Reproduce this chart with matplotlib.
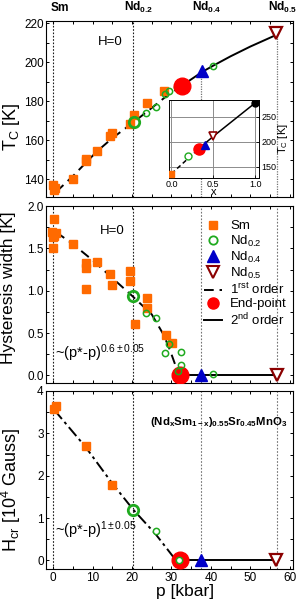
import matplotlib
matplotlib.use("Agg")
from matplotlib import pyplot as plt
from matplotlib.lines import Line2D
from matplotlib.ticker import MultipleLocator

plt.rcParams['font.family'] = ['Liberation Sans', 'DejaVu Sans']
plt.rcParams['mathtext.fontset'] = 'custom'
plt.rcParams['mathtext.rm'] = 'Liberation Sans'
plt.rcParams['mathtext.it'] = 'Liberation Sans:italic'
plt.rcParams['mathtext.bf'] = 'Liberation Sans:bold'
plt.rcParams['mathtext.default'] = 'regular'

# compositions and their pressures (vertical guides)
comp_labels = [r'$\mathbf{Sm}$', r'$\mathbf{Nd_{0.2}}$', r'$\mathbf{Nd_{0.4}}$', r'$\mathbf{Nd_{0.5}}$']
comp_p = [0.0, 20.2, 37.4, 56.7]

# --- Tc vs p (top panel)
p_sm_tc = [0.25, 0.0, 0.5, 4.9, 8.2, 8.2, 11.2, 14.5, 14.9, 19.6, 20.6, 23.7, 28.1]
tc_sm = [134.3, 137.0, 135.2, 140.0, 149.0, 150.5, 154.5, 162.0, 163.7, 168.0, 173.0, 179.0, 185.2]
p_nd2_big_tc, tc_nd2_big = 20.4, 169.2
p_nd2_tc = [23.5, 26.0, 28.3, 29.4, 31.5, 32.3, 40.6]
tc_nd2 = [174.0, 177.0, 183.8, 185.2, 187.3, 189.3, 198.0]
p_end_tc, tc_end = 32.7, 188.0
p_nd4_tc, tc_nd4 = 37.8, 195.3
p_nd5_tc, tc_nd5 = 56.4, 215.0
fit1_p = [0.8, 5.0, 11.0, 15.0, 20.4, 25.0, 29.0, 32.7]
fit1_tc = [133.5, 141.5, 154.0, 161.0, 169.2, 176.5, 183.0, 188.0]
fit2_p = [32.7, 37.8, 40.6, 45.0, 50.0, 56.4]
fit2_tc = [188.0, 195.0, 198.2, 203.0, 208.0, 213.8]

# inset: Tc vs x
ins_x_sm, ins_tc_sm = 0.0, 136.0
ins_x_nd2, ins_tc_nd2 = 0.2, 171.0
ins_x_end, ins_tc_end = 0.33, 186.6
ins_x_nd4, ins_tc_nd4 = 0.4, 194.0
ins_x_nd5, ins_tc_nd5 = 0.5, 211.0
ins_x_nd1, ins_tc_nd1 = 1.0, 278.0
ins_dash_x = [0.0, 0.33]
ins_dash_tc = [136.0, 186.6]
ins_solid_x = [0.33, 0.5, 1.0]
ins_solid_tc = [186.6, 211.0, 278.0]

# --- hysteresis width (middle panel)
p_sm_hw = [0.2, -0.2, 0.3, 0.0, 0.6, 0.0, 4.9, 8.2, 8.2, 11.2, 8.2, 14.5, 14.9, 19.6, 19.6, 23.8, 23.9, 20.8, 28.6, 30.1]
hw_sm = [1.85, 1.69, 1.65, 1.63, 1.68, 1.50, 1.55, 1.33, 1.27, 1.34, 1.02, 1.20, 1.07, 1.23, 1.11, 0.91, 0.79, 0.61, 0.48, 0.38]
p_nd2_big_hw, hw_nd2_big = 20.3, 0.935
p_nd2_hw = [23.5, 26.0, 29.4, 28.4, 32.3, 32.3, 31.6, 40.6]
hw_nd2 = [0.74, 0.68, 0.375, 0.27, 0.28, 0.127, 0.055, 0.02]
p_end_hw, hw_end = 32.2, 0.0
p_nd4_hw, hw_nd4 = 37.4, 0.0
p_nd5_hw, hw_nd5 = 56.7, 0.0
hfit1_p = [0.8, 5.0, 10.0, 15.0, 20.0, 25.0, 28.0, 29.6, 31.3]
hfit1_hw = [1.69, 1.55, 1.36, 1.15, 0.94, 0.72, 0.48, 0.30, 0.08]
hfit2_p = [32.2, 56.7]
hfit2_hw = [0.0, 0.0]

# --- critical field (bottom panel)
p_sm_hc = [0.25, 0.7, 8.2, 14.9]
hc_sm = [3.58, 3.64, 2.70, 1.79]
p_nd2_big_hc, hc_nd2_big = 20.3, 1.2
p_nd2_hc = [26.0, 31.8]
hc_nd2 = [0.70, 0.0]
p_end_hc, hc_end = 32.2, 0.0
p_nd4_hc, hc_nd4 = 37.4, 0.0
p_nd5_hc, hc_nd5 = 56.4, 0.0
cfit1_p = [0.3, 8.2, 14.9, 20.3, 26.0, 30.5]
cfit1_hc = [3.55, 2.68, 1.83, 1.20, 0.62, 0.08]
cfit2_p = [32.2, 56.4]
cfit2_hc = [0.0, 0.0]

orange = '#ff6a00'
green = '#1faa1f'
blue = '#0000c8'
brown = '#8b0000'
red = '#ff0000'

fig = plt.figure(figsize=(2.98, 6.06), dpi=100)
L, W = 0.156, 0.827
ax1 = fig.add_axes([L, 0.675, W, 0.290])
ax2 = fig.add_axes([L, 0.368, W, 0.292])
ax3 = fig.add_axes([L, 0.0611, W, 0.2937])

for ax in (ax1, ax2, ax3):
    ax.set_xlim(-1.7, 60.8)
    ax.xaxis.set_major_locator(MultipleLocator(10))
    ax.xaxis.set_minor_locator(MultipleLocator(5))
    ax.tick_params(which='both', direction='in', top=True, right=True, length=2.5,
                   width=0.7, labelsize=8.5, pad=2)
    for s in ax.spines.values():
        s.set_linewidth(0.8)

dotcol = ['0.1', '0.1', '0.45', '0.45']

# top panel
ax1.set_ylim(130.8, 221)
ax1.yaxis.set_major_locator(MultipleLocator(20))
ax1.yaxis.set_minor_locator(MultipleLocator(10))
ax1.tick_params(labelbottom=False)
ax1.axvline(comp_p[0], color=dotcol[0], ls=(0, (1.5, 1.5)), lw=0.8, zorder=1)
ax1.axvline(comp_p[1], color=dotcol[1], ls=(0, (1.5, 1.5)), lw=0.8, zorder=1)
ax1.plot([comp_p[2], comp_p[2]], [130.8, tc_nd4], color=dotcol[2], ls=(0, (1, 1)), lw=0.9, zorder=1)
ax1.plot([comp_p[3], comp_p[3]], [130.8, tc_nd5], color=dotcol[3], ls=(0, (1, 1)), lw=0.9, zorder=1)
ax1.plot(fit1_p, fit1_tc, color='k', lw=1.4, dashes=(5, 3), zorder=2)
ax1.plot(fit2_p, fit2_tc, color='k', lw=1.4, zorder=2)
ax1.plot(p_sm_tc, tc_sm, 's', color=orange, ms=5.5, mec=orange, zorder=3)
ax1.plot(p_nd2_tc, tc_nd2, 'o', mfc='none', mec=green, mew=1.1, ms=4.5, zorder=3)
ax1.plot(p_end_tc, tc_end, 'o', color=red, ms=12, zorder=4)
ax1.plot(p_nd2_big_tc, tc_nd2_big, 'o', mfc='none', mec=green, mew=2, ms=7.5, zorder=4)
ax1.plot(p_nd4_tc, tc_nd4, '^', color=blue, ms=8, zorder=4)
ax1.plot(p_nd5_tc, tc_nd5, 'v', mfc='white', mec=brown, mew=1.6, ms=8.5, zorder=4)
ax1.text(11.3, 210.3, 'H=0', fontsize=9.5, va='center')
ax1.set_ylabel(r'T$_C$ [K]', fontsize=13)
ax1.yaxis.set_label_coords(-0.10, 0.40)

for i, (lab, p) in enumerate(zip(comp_labels, comp_p)):
    off = 0.8 if i == 0 else 2.3
    ax1.text(p - off, 1.0 + 10.5 / 176, lab, transform=ax1.get_xaxis_transform(),
             fontsize=8.6, ha='left', va='baseline')

# inset
axi = fig.add_axes([0.567, 0.7068, 0.303, 0.129])
axi.set_xlim(-0.03, 1.05)
axi.set_ylim(128, 285)
axi.set_xticks([0.0, 0.5, 1.0])
axi.set_yticks([150, 200, 250])
axi.grid(True, color='0.55', lw=0.7)
axi.yaxis.tick_right()
axi.yaxis.set_label_position('right')
axi.tick_params(direction='in', length=2, width=0.6, labelsize=6.5, pad=1.5)
axi.plot(ins_dash_x, ins_dash_tc, color='k', lw=1.1, dashes=(3, 2), zorder=2)
axi.plot(ins_solid_x, ins_solid_tc, color='k', lw=1.1, zorder=2)
axi.plot(ins_x_sm, ins_tc_sm, 's', color=orange, ms=4.5, zorder=3)
axi.plot(ins_x_nd2, ins_tc_nd2, 'o', mfc='white', mec=green, mew=1, ms=5, zorder=3)
axi.plot(ins_x_end, ins_tc_end, 'o', color=red, ms=8, zorder=3)
axi.plot(ins_x_nd4, ins_tc_nd4, '^', color=blue, ms=6, zorder=4)
axi.plot(ins_x_nd5, ins_tc_nd5, 'v', mfc='white', mec=brown, mew=1.2, ms=6, zorder=4)
axi.plot(ins_x_nd1, ins_tc_nd1, 'o', color='k', ms=5, zorder=4)
axi.set_xlabel('x', fontsize=8, labelpad=-1)
axi.set_ylabel(r'T$_C$ [K]', fontsize=8, rotation=90, labelpad=0)
for s in axi.spines.values():
    s.set_linewidth(0.7)

# middle panel
ax2.set_ylim(-0.09, 2.0)
ax2.yaxis.set_major_locator(MultipleLocator(0.5))
ax2.yaxis.set_minor_locator(MultipleLocator(0.25))
ax2.tick_params(labelbottom=False)
for p, c in zip(comp_p, dotcol):
    ax2.axvline(p, color=c, ls=(0, (1.5, 1.5)), lw=0.8, zorder=1)
ax2.plot(hfit1_p, hfit1_hw, color='k', lw=1.4, dashes=(5, 3), zorder=2)
ax2.plot(hfit2_p, hfit2_hw, color='k', lw=1.4, zorder=2)
ax2.plot(p_sm_hw, hw_sm, 's', color=orange, ms=5.5, zorder=3)
ax2.plot(p_end_hw, hw_end, 'o', color=red, ms=12, zorder=3)
ax2.plot(p_nd2_hw, hw_nd2, 'o', mfc='none', mec=green, mew=1.1, ms=4.5, zorder=4)
ax2.plot(p_nd2_big_hw, hw_nd2_big, 'o', mfc='none', mec=green, mew=2, ms=7.5, zorder=4)
ax2.plot(p_nd4_hw, hw_nd4, '^', color=blue, ms=8, zorder=4)
ax2.plot(p_nd5_hw, hw_nd5, 'v', mfc='white', mec=brown, mew=1.6, ms=8.5, zorder=4)
ax2.text(11.8, 1.70, 'H=0', fontsize=9.5, va='center')
ax2.text(0.4, 0.2, r'~(p*-p)$^{0.6\pm0.05}$', fontsize=10.5, va='baseline')
ax2.set_ylabel('Hysteresis width [K]', fontsize=12.5)
ax2.yaxis.set_label_coords(-0.125, 0.537)

leg_handles = [
    Line2D([], [], ls='none', marker='s', color=orange, ms=6),
    Line2D([], [], ls='none', marker='o', mfc='none', mec=green, mew=1.3, ms=6),
    Line2D([], [], ls='none', marker='^', color=blue, ms=8),
    Line2D([], [], ls='none', marker='v', mfc='white', mec=brown, mew=1.5, ms=8),
    Line2D([], [], color='k', lw=1.4, dashes=(5, 3)),
    Line2D([], [], ls='none', marker='o', color=red, ms=8),
    Line2D([], [], color='k', lw=1.4),
]
leg_labels = ['Sm', 'Nd$_{0.2}$', 'Nd$_{0.4}$', 'Nd$_{0.5}$', '1$^{rst}$ order', 'End-point', '2$^{nd}$ order']
ax2.legend(leg_handles, leg_labels, loc='upper left', bbox_to_anchor=(0.628, 0.935),
           frameon=False, fontsize=9.5, handlelength=1.4, handletextpad=0.6,
           labelspacing=0.08, borderaxespad=0, borderpad=0.2)

# bottom panel
ax3.set_ylim(-0.2, 4.0)
ax3.yaxis.set_major_locator(MultipleLocator(1))
ax3.yaxis.set_minor_locator(MultipleLocator(0.5))
for p, c in zip(comp_p, dotcol):
    ax3.axvline(p, color=c, ls=(0, (1.5, 1.5)), lw=0.8, zorder=1)
ax3.plot(cfit1_p, cfit1_hc, color='k', lw=1.4, dashes=(6, 2, 1.5, 2), zorder=2)
ax3.plot(cfit2_p, cfit2_hc, color='k', lw=1.4, zorder=2)
ax3.plot(p_sm_hc, hc_sm, 's', color=orange, ms=5.5, zorder=3)
ax3.plot(p_end_hc, hc_end, 'o', color=red, ms=12, zorder=3)
ax3.plot(p_nd2_hc, hc_nd2, 'o', mfc='white', mec=green, mew=1.1, ms=4.5, zorder=4)
ax3.plot(p_nd2_big_hc, hc_nd2_big, 'o', mfc='none', mec=green, mew=2, ms=7.5, zorder=4)
ax3.plot(p_nd4_hc, hc_nd4, '^', color=blue, ms=8, zorder=4)
ax3.plot(p_nd5_hc, hc_nd5, 'v', mfc='white', mec=brown, mew=1.6, ms=8.5, zorder=4)
ax3.text(0.4, 0.6, r'~(p*-p)$^{1\pm0.05}$', fontsize=10.5, va='baseline')
ax3.text(24.5, 3.26, r'$\mathbf{(Nd_xSm_{1-x})_{0.55}Sr_{0.45}MnO_3}$', fontsize=8.2, va='center')
ax3.set_ylabel(r'H$_{cr}$ [10$^4$ Gauss]', fontsize=13)
ax3.yaxis.set_label_coords(-0.095, 0.444)
ax3.set_xlabel('p [kbar]', fontsize=12.5)
ax3.xaxis.set_label_coords(0.562, -0.085)

fig.savefig('out.png', dpi=100)
